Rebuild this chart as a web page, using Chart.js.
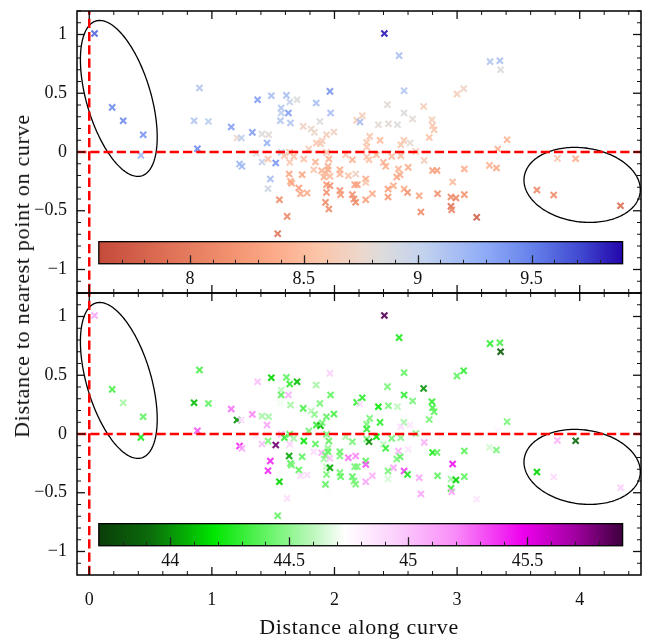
<!DOCTYPE html>
<html><head><meta charset="utf-8">
<script src="https://cdn.jsdelivr.net/npm/chart.js@4.4.0/dist/chart.umd.min.js"></script>
<style>
html,body{margin:0;padding:0;background:#fff;}
#wrap{position:relative;width:654px;height:640px;overflow:hidden;background:#fff;}
.box{position:absolute;left:0;width:654px;}
.ttl{position:absolute;font-family:"Liberation Serif",serif;font-size:22px;line-height:1;white-space:nowrap;letter-spacing:0.7px;color:#111;}
#ytitle{left:22px;top:276px;transform:translate(-50%,-50%) rotate(-90deg);}
#xtitle{left:359px;top:627px;transform:translate(-50%,-50%);}
</style></head>
<body><div id="wrap">
<div class="box" style="top:0;height:300px;"><canvas id="c1" width="654" height="300"></canvas></div>
<div class="box" style="top:286px;height:354px;"><canvas id="c2" width="654" height="354"></canvas></div>
<div class="ttl" id="ytitle">Distance to nearest point on curve</div>
<div class="ttl" id="xtitle">Distance along curve</div>
</div>
<script>
// ---------------- data ----------------
const xVals = [0.043,0.187,0.277,0.440,0.421,0.899,1.485,1.608,1.373,1.635,1.695,1.963,1.851,1.565,1.565,1.624,1.968,1.559,1.641,0.855,
0.972,1.158,1.330,1.205,1.240,1.409,1.463,1.450,0.882,1.745,1.810,1.837,1.881,1.935,1.995,1.791,1.853,1.886,1.900,1.935,
1.565,1.592,1.635,1.668,1.635,1.458,1.409,1.362,1.521,1.226,1.245,1.477,1.458,1.551,1.614,1.537,1.750,1.845,1.954,1.630,
1.641,1.650,1.736,1.709,1.723,1.777,1.831,1.895,1.914,1.927,1.947,1.947,1.963,1.935,1.963,1.935,1.927,1.954,2.044,2.044,
2.113,2.091,2.044,2.050,2.568,2.999,3.054,2.432,2.727,2.568,2.637,2.227,2.181,2.208,2.358,2.440,2.514,2.795,2.800,2.813,
2.773,2.287,2.263,2.263,2.372,2.566,2.541,2.617,2.664,2.146,2.263,2.282,2.342,2.399,2.418,2.467,2.541,2.732,2.522,2.535,
2.508,2.601,2.800,2.836,3.059,3.264,3.321,3.332,3.408,2.964,2.173,2.255,2.255,2.165,2.187,2.481,2.437,2.437,2.568,2.596,
2.691,2.841,2.950,2.991,3.059,2.950,2.956,2.705,3.160,2.146,2.159,2.173,2.255,2.309,2.407,2.527,3.269,3.349,3.355,3.818,
3.967,3.651,3.788,4.333];
const yVals = [1.009,0.380,0.266,0.147,-0.029,0.545,0.479,0.482,0.445,0.425,0.445,0.516,0.417,0.374,0.332,0.332,0.332,0.266,0.247,0.266,
0.260,0.213,0.167,0.119,0.119,0.153,0.147,0.077,0.028,0.218,0.196,0.167,0.260,0.147,0.170,0.025,0.077,0.071,0.096,-0.003,
-0.003,-0.031,-0.003,-0.037,-0.088,-0.060,-0.085,-0.010,-0.094,-0.102,-0.122,-0.230,-0.312,-0.406,-0.548,-0.695,-0.060,-0.085,-0.060,-0.187,
-0.250,-0.266,-0.194,-0.306,-0.355,-0.349,-0.151,-0.159,-0.213,-0.180,-0.122,-0.151,-0.207,-0.278,-0.287,-0.344,-0.429,-0.485,-0.151,-0.188,
-0.202,-0.023,-0.329,-0.363,0.522,0.494,0.539,0.403,0.388,0.332,0.281,0.309,0.269,0.255,0.232,0.241,0.232,0.275,0.224,0.190,
0.124,0.133,0.082,0.043,0.099,0.099,0.062,0.077,0.005,-0.066,-0.043,-0.066,-0.023,-0.088,-0.122,-0.037,-0.031,-0.071,-0.145,-0.193,
-0.213,-0.131,-0.157,-0.157,-0.145,-0.114,-0.136,0.025,0.105,-0.255,-0.187,-0.230,-0.259,-0.278,-0.278,-0.287,-0.315,-0.383,-0.315,-0.344,
-0.372,-0.355,-0.383,-0.391,-0.363,-0.463,-0.491,-0.511,-0.556,-0.363,-0.400,-0.428,-0.406,-0.355,1.009,0.820,0.769,0.777,0.700,-0.054,
-0.057,-0.324,-0.366,-0.457];
// colour variable of the upper panel
const colorA = [9.6,9.45,9.45,9.4,9.2,9.1,9.15,9.15,9.35,9.0,8.85,9.4,9.15,9.1,9.05,9.35,9.15,9.1,9.1,9.1,
9.05,9.35,9.35,8.75,9.05,8.85,8.8,9.25,9.45,8.7,8.75,8.75,8.85,8.65,8.7,8.65,8.6,8.6,8.65,8.6,
9.0,8.6,8.55,8.55,8.6,8.55,9.0,8.85,9.4,9.2,9.2,9.15,8.95,8.15,8.1,7.95,8.55,8.45,8.4,8.35,
8.35,8.35,8.35,8.3,8.35,8.4,8.6,8.45,8.4,8.5,8.4,8.4,8.5,8.25,8.2,8.2,8.15,8.15,8.4,8.45,
8.55,8.6,8.2,8.25,9.1,8.65,8.7,8.8,8.65,8.85,8.8,8.65,8.65,9.15,8.8,8.8,8.85,8.65,8.6,8.6,
8.55,8.6,8.6,8.6,8.5,8.6,8.6,8.8,8.65,8.45,8.6,8.55,8.5,8.45,8.4,8.5,8.5,8.65,8.45,8.4,
8.35,8.4,8.3,8.3,8.4,8.45,8.35,8.45,8.45,8.5,8.7,8.4,8.6,8.3,8.3,8.4,8.3,8.25,8.4,8.2,
8.35,8.2,8.15,8.1,8.2,7.95,8.1,8.15,7.75,8.2,8.15,8.15,8.3,8.4,9.85,9.15,9.1,9.15,8.85,8.6,
8.4,8.1,8.15,7.9];
// colour variable of the lower panel
const colorB = [45.1,44.35,44.55,44.4,44.25,44.35,44.15,44.4,45.0,44.3,44.1,44.95,44.55,44.6,44.4,45.05,44.4,44.7,44.55,44.1,
44.4,45.25,45.2,44.0,44.9,44.55,44.55,45.1,45.3,44.35,44.6,44.5,44.45,44.4,44.35,44.45,44.3,44.1,44.45,44.45,
45.0,44.3,44.4,44.55,44.95,44.45,45.0,44.85,45.8,45.4,45.1,45.4,45.4,44.15,44.9,44.4,44.2,44.4,44.4,44.05,
44.4,44.45,44.4,44.4,44.9,44.9,44.9,45.05,44.55,44.45,44.5,44.4,45.0,44.6,44.05,44.45,44.4,44.75,44.4,44.45,
45.25,44.55,44.45,44.4,44.4,44.4,44.3,44.45,44.0,44.3,44.45,44.3,44.3,44.9,44.2,44.45,44.6,44.3,44.35,44.4,
44.45,44.45,44.45,44.3,44.3,44.55,44.9,44.85,44.5,44.45,44.45,44.0,44.2,44.6,44.3,44.45,44.5,45.05,45.05,44.4,
44.45,44.85,44.25,44.4,44.4,44.65,44.45,44.8,44.45,45.45,45.2,44.4,45.3,44.45,44.45,45.1,44.45,44.65,45.35,44.25,
45.1,44.4,44.55,44.15,44.4,44.3,45.1,45.1,44.85,44.4,44.45,44.45,45.1,45.05,45.85,44.25,44.3,44.35,43.85,45.05,
43.9,44.15,44.9,44.95];
const xTicks = [0, 1, 2, 3, 4];
const yTicks = [-1, -0.5, 0, 0.5, 1];
const xRange = [-0.1, 4.5];
const yRange = [-1.2, 1.2];
const cbarATicks = [8, 8.5, 9, 9.5];
const cbarARange = [7.6, 9.9];
const cbarBTicks = [44, 44.5, 45, 45.5];
const cbarBRange = [43.7, 45.9];
// ellipses (data units): centre, first semi-axis vector, second semi-axis vector
const ellipseCentres = [[0.241, 0.456], [4.02, -0.28]];
const ellipseAxisU = [[0.186, -0.659], [0.4726, -0.0682]];
const ellipseAxisV = [[-0.252, -0.077], [-0.0416, -0.3119]];

// ---------------- styles ----------------
const FONT = '"Liberation Serif", serif';
const cmapA = [[0,'#c44b3a'],[0.12,'#dc6d53'],[0.25,'#f2916f'],[0.33,'#fca987'],[0.42,'#fcc5aa'],[0.5,'#ecd7cc'],
  [0.54,'#dddbdb'],[0.62,'#c2d2ee'],[0.74,'#8eaaf7'],[0.83,'#6480ea'],[0.92,'#4048d0'],[1,'#2306ab']];
const cmapB = [[0,'#0a3d0a'],[0.1,'#0b6d0b'],[0.22,'#00e600'],[0.33,'#6ef56e'],[0.41,'#bdf7bd'],[0.47,'#ffffff'],
  [0.57,'#fccffc'],[0.68,'#f98cf9'],[0.81,'#ee00ee'],[0.91,'#a000a0'],[1,'#3d003d']];
const CBAR_POS = {x0: 0.078, x1: 4.35, yTop: -0.763, yBot: -0.951};

function hex(h){return [parseInt(h.slice(1,3),16),parseInt(h.slice(3,5),16),parseInt(h.slice(5,7),16)];}
function cmapColor(cmap, t, alpha){
  t = Math.max(0, Math.min(1, t));
  for (let i = 1; i < cmap.length; i++) {
    if (t <= cmap[i][0]) {
      const a = cmap[i-1], b = cmap[i];
      const f = (t - a[0]) / (b[0] - a[0]);
      const ca = hex(a[1]), cb = hex(b[1]);
      const c = ca.map((v, k) => Math.round(v + (cb[k] - v) * f));
      return `rgba(${c[0]},${c[1]},${c[2]},${alpha})`;
    }
  }
  return cmap[cmap.length-1][1];
}
function fmt(v){ if (Math.abs(v) < 1e-9) return '0'; return (v < 0 ? '\u2212' : '') + String(Math.abs(v)); }

const panelPlugin = {
  id: 'panel',
  afterDatasetsDraw(chart, args, opts) {
    const {ctx, chartArea: a, scales: {x, y}} = chart;
    ctx.save();
    ctx.beginPath(); ctx.rect(a.left, a.top, a.right - a.left, a.bottom - a.top); ctx.clip();
    // ellipses
    ctx.strokeStyle = '#000'; ctx.lineWidth = 1.3;
    for (let e = 0; e < ellipseCentres.length; e++) {
      const [cx, cy] = ellipseCentres[e], [ux, uy] = ellipseAxisU[e], [vx, vy] = ellipseAxisV[e];
      ctx.beginPath();
      for (let i = 0; i <= 200; i++) {
        const t = i / 200 * Math.PI * 2;
        const px = x.getPixelForValue(cx + ux * Math.cos(t) + vx * Math.sin(t));
        const py = y.getPixelForValue(cy + uy * Math.cos(t) + vy * Math.sin(t));
        i ? ctx.lineTo(px, py) : ctx.moveTo(px, py);
      }
      ctx.stroke();
    }
    // dashed reference lines
    ctx.strokeStyle = '#ff0000'; ctx.lineWidth = 2.5; ctx.setLineDash([9.25, 4]);
    const y0 = y.getPixelForValue(0), x0 = x.getPixelForValue(0);
    ctx.beginPath(); ctx.moveTo(a.left, y0); ctx.lineTo(a.right, y0); ctx.stroke();
    ctx.beginPath(); ctx.moveTo(x0, a.bottom); ctx.lineTo(x0, a.top); ctx.stroke();
    ctx.setLineDash([]);
    ctx.restore();

    // colour bar
    const cb = opts;
    const L = x.getPixelForValue(CBAR_POS.x0), R = x.getPixelForValue(CBAR_POS.x1);
    const T = y.getPixelForValue(CBAR_POS.yTop), B = y.getPixelForValue(CBAR_POS.yBot);
    ctx.save();
    const g = ctx.createLinearGradient(L, 0, R, 0);
    cb.cmap.forEach(s => g.addColorStop(s[0], s[1]));
    ctx.fillStyle = g; ctx.fillRect(L, T, R - L, B - T);
    const [r0, r1] = cb.range;
    const vp = v => L + (v - r0) / (r1 - r0) * (R - L);
    ctx.strokeStyle = '#222'; ctx.lineWidth = 1;
    for (let k = Math.ceil(r0 * 10 + 1e-6); k / 10 < r1 - 1e-6; k++) {
      const v = k / 10;
      const major = cb.ticks.some(t => Math.abs(t - v) < 1e-6);
      const px = Math.round(vp(v)) + 0.5;
      ctx.lineWidth = major ? 1.3 : 1;
      ctx.beginPath(); ctx.moveTo(px, B); ctx.lineTo(px, B - (major ? 8.5 : 4)); ctx.stroke();
    }
    ctx.strokeStyle = '#000'; ctx.lineWidth = 1.3;
    ctx.strokeRect(L, T, R - L, B - T);
    ctx.fillStyle = '#111'; ctx.font = '18px ' + FONT; ctx.textAlign = 'center'; ctx.textBaseline = 'middle';
    cb.ticks.forEach(t => ctx.fillText(fmt(t), vp(t), B + 16));
    ctx.restore();
  },
  afterDraw(chart) {
    const {ctx, chartArea: a, scales: {x, y}} = chart;
    ctx.save();
    ctx.strokeStyle = '#111';
    const tick = (x1, y1, x2, y2, w) => { ctx.lineWidth = w; ctx.beginPath(); ctx.moveTo(x1, y1); ctx.lineTo(x2, y2); ctx.stroke(); };
    for (let k = Math.ceil(xRange[0] / 0.2); k * 0.2 <= xRange[1] + 1e-9; k++) {
      const v = +(k * 0.2).toFixed(3);
      const major = xTicks.some(t => Math.abs(t - v) < 1e-6);
      const px = x.getPixelForValue(v), len = major ? 8 : 4, w = major ? 1.3 : 1;
      tick(px, a.bottom, px, a.bottom - len, w);
      tick(px, a.top, px, a.top + len, w);
    }
    for (let k = Math.ceil(yRange[0] / 0.1); k * 0.1 <= yRange[1] + 1e-9; k++) {
      const v = +(k * 0.1).toFixed(3);
      const major = yTicks.some(t => Math.abs(t - v) < 1e-6);
      const py = y.getPixelForValue(v), len = major ? 8 : 4, w = major ? 1.3 : 1;
      tick(a.left, py, a.left + len, py, w);
      tick(a.right, py, a.right - len, py, w);
    }
    ctx.lineWidth = 1.5; ctx.strokeStyle = '#000';
    ctx.strokeRect(a.left, a.top, a.right - a.left, a.bottom - a.top);
    ctx.restore();
  }
};

function makeChart(id, colourVals, cmap, range, ticks, bottom) {
  const cols = colourVals.map(v => cmapColor(cmap, (v - range[0]) / (range[1] - range[0]), 0.9));
  return new Chart(document.getElementById(id), {
    type: 'scatter',
    data: { datasets: [{
      data: xVals.map((xv, i) => ({x: xv, y: yVals[i]})),
      pointStyle: 'crossRot', pointRadius: 4.3, pointHoverRadius: 4.3,
      pointBorderWidth: 2.1, pointBorderColor: cols, pointBackgroundColor: cols
    }]},
    options: {
      responsive: false, animation: false, devicePixelRatio: 1, events: [],
      layout: { padding: { left: 0, right: 13, top: bottom ? 7 : 11, bottom: bottom ? 0 : 7 } },
      plugins: { legend: { display: false }, tooltip: { enabled: false },
                 panel: { cmap: cmap, range: range, ticks: ticks } },
      scales: {
        x: { type: 'linear', min: xRange[0], max: xRange[1], display: bottom,
             grid: { display: false, drawTicks: false }, border: { display: false },
             ticks: { padding: 14, color: '#111', font: { family: FONT, size: 18 }, callback: v => fmt(v), maxRotation: 0 },
             afterBuildTicks: s => { s.ticks = xTicks.map(v => ({value: v})); },
             afterFit: s => { s.height = bottom ? 65 : 0; s.paddingLeft = 0; s.paddingRight = 0; } },
        y: { type: 'linear', min: yRange[0], max: yRange[1],
             grid: { display: false, drawTicks: false }, border: { display: false },
             ticks: { padding: 10, color: '#111', font: { family: FONT, size: 18 }, callback: v => fmt(v) },
             afterBuildTicks: s => { s.ticks = yTicks.map(v => ({value: v})); },
             afterFit: s => { s.width = 77; s.paddingTop = 0; s.paddingBottom = 0; } }
      }
    },
    plugins: [panelPlugin]
  });
}
makeChart('c1', colorA, cmapA, cbarARange, cbarATicks, false);
makeChart('c2', colorB, cmapB, cbarBRange, cbarBTicks, true);
</script>
</body></html>
